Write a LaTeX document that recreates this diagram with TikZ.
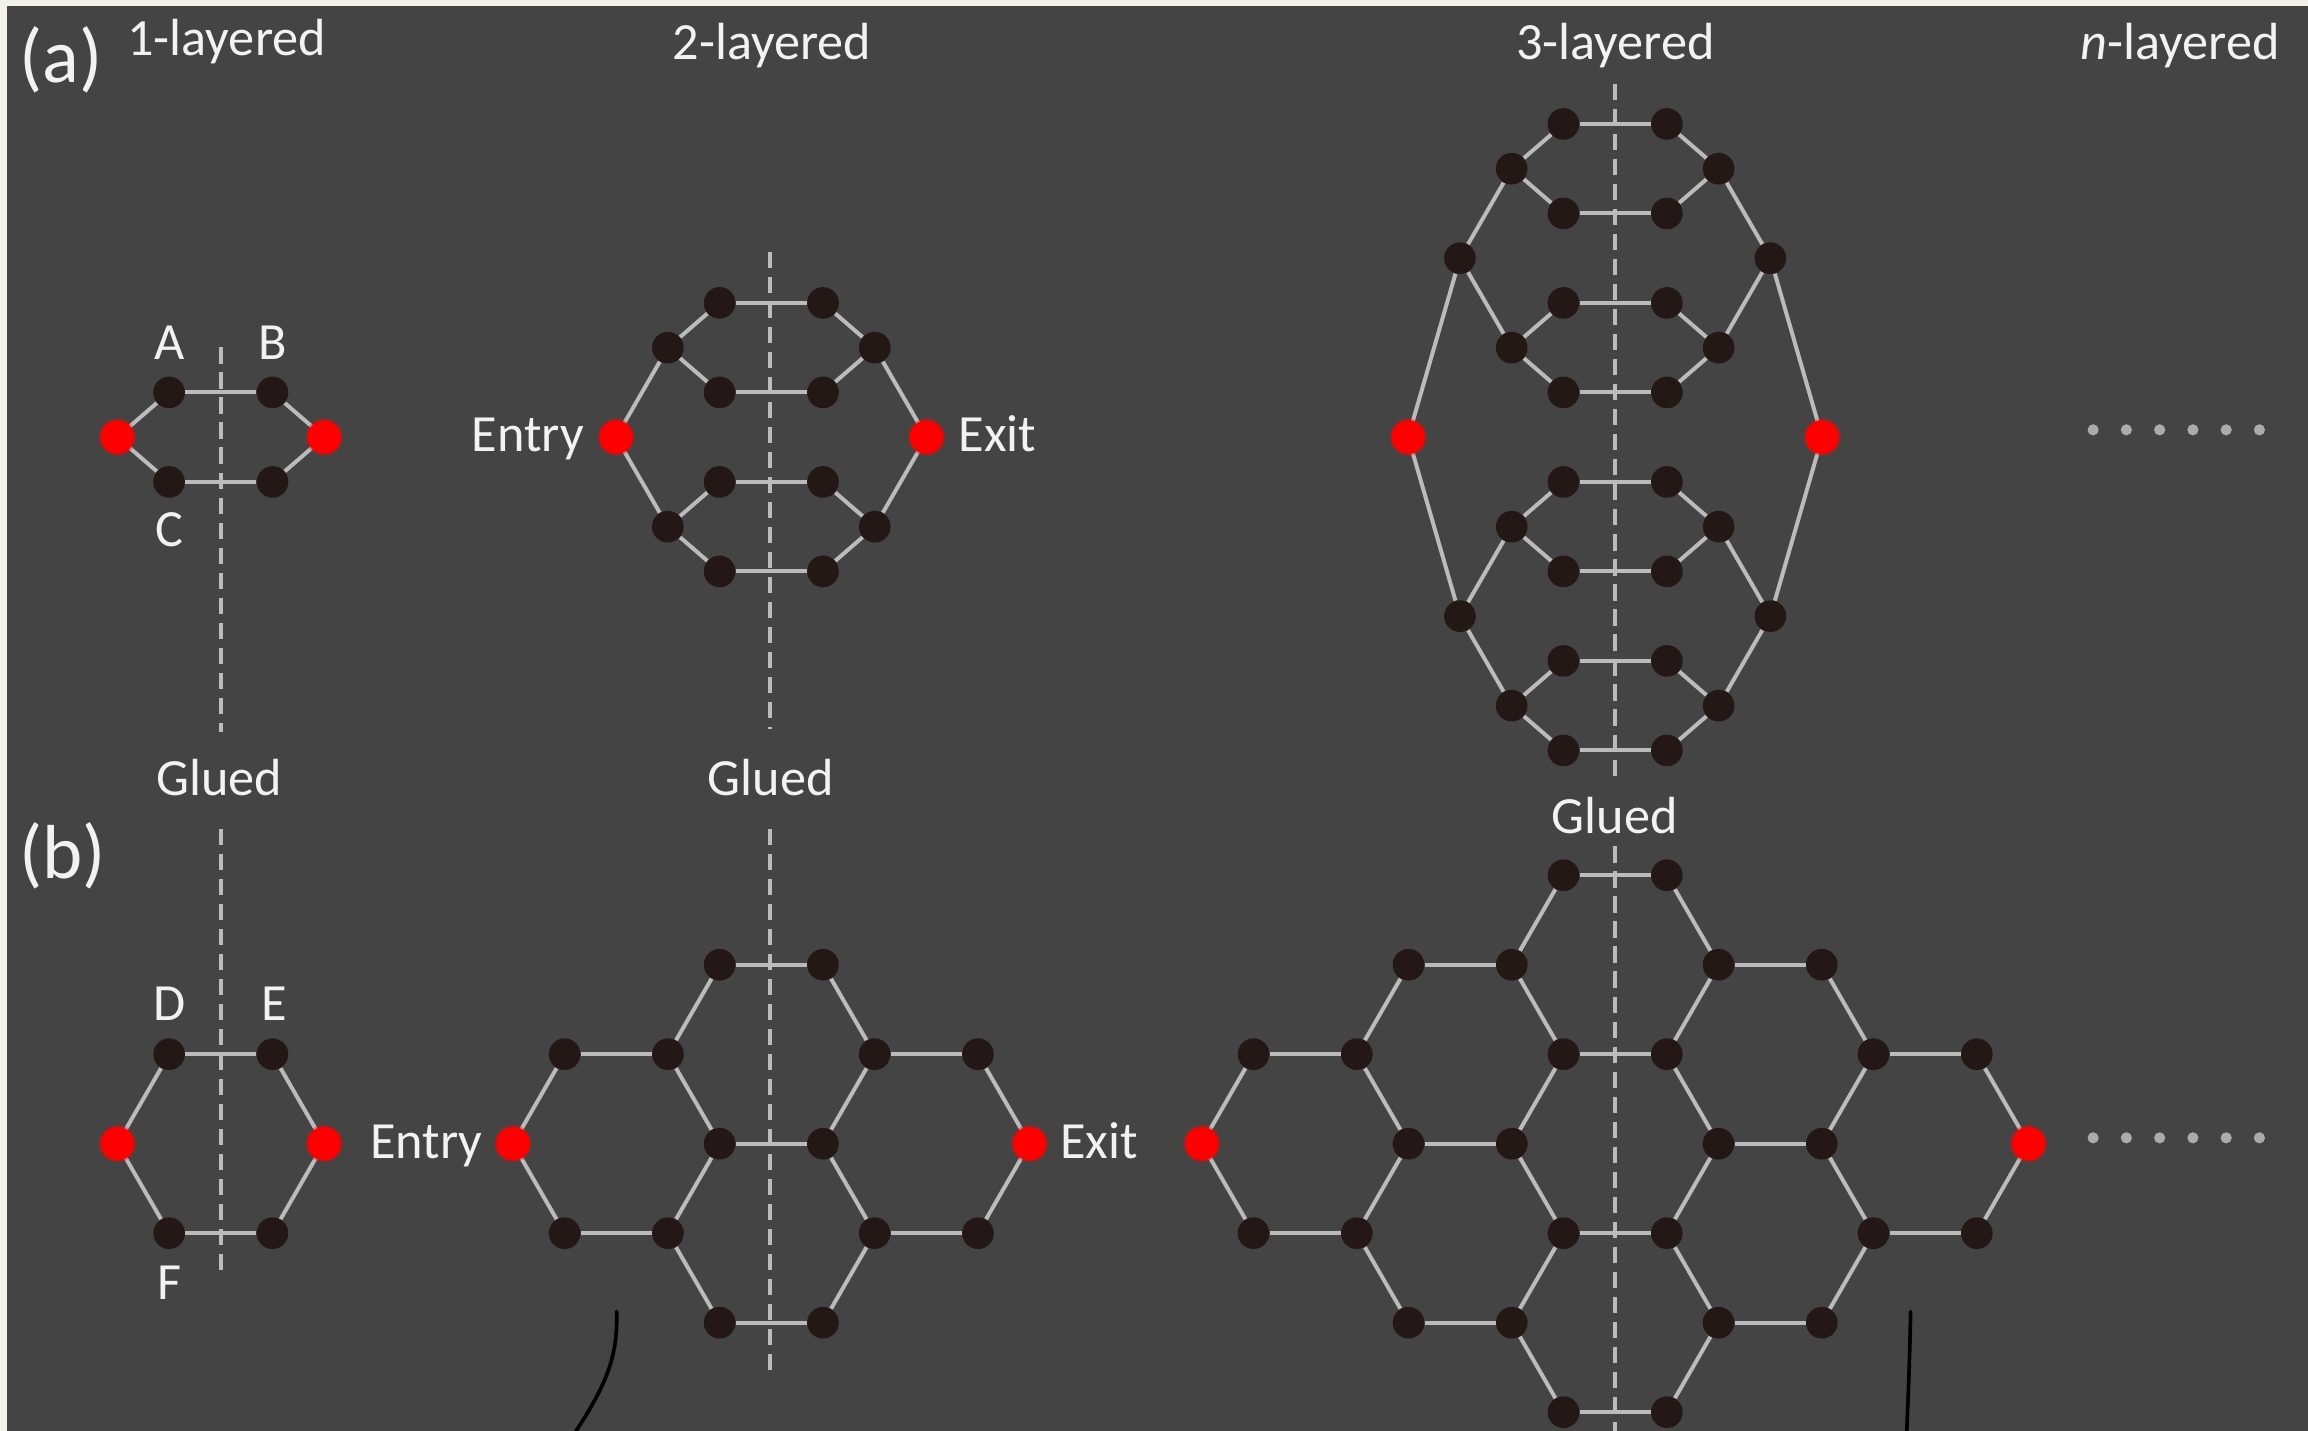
\documentclass[tikz,border=0pt]{standalone}
\usepackage{fontspec}
\setmainfont{Carlito}
\definecolor{paper}{HTML}{F3F1EC}
\definecolor{panelbg}{HTML}{444444}
\definecolor{edgegray}{HTML}{BBBBBB}
\definecolor{atomblk}{HTML}{231815}
\definecolor{atomred}{HTML}{FF0000}
\definecolor{txt}{HTML}{F2F2F2}
\definecolor{dotgray}{HTML}{ABABAB}

\pgfdeclarelayer{back}
\pgfdeclarelayer{bonds}
\pgfsetlayers{back,bonds,main}

\tikzset{
  atom/.style={circle, fill=atomblk, inner sep=0pt, minimum size=21.5pt},
  port/.style={circle, fill=atomred, inner sep=0pt, minimum size=22.5pt,
               preaction={draw=atomred, line width=3pt, draw opacity=0.35}},
  bond/.style={draw=edgegray, line width=2.7pt},
  glue/.style={draw=edgegray, line width=2.7pt, dash pattern=on 11pt off 6pt},
  lbl/.style={text=txt, inner sep=0pt, font=\fontsize{35.5}{42}\selectfont},
  tag/.style={text=txt, inner sep=0pt, font=\fontsize{52}{60}\selectfont},
  curl/.style={draw=black, line width=2.5pt, line cap=round},
}

% a lattice site #2-(col+20)-(row+20) with style #1 at grid point (#3,#4)
\newcommand\hexsite[4]{%
  \pgfmathtruncatemacro\ci{#3+20}\pgfmathtruncatemacro\ri{#4+20}%
  \node[#1] (#2-\ci-\ri) at (#3,#4) {};}
% a bond of lattice #1 between grid points (#2,#3) and (#4,#5)
\newcommand\hexbond[5]{%
  \pgfmathtruncatemacro\ca{#2+20}\pgfmathtruncatemacro\ra{#3+20}%
  \pgfmathtruncatemacro\cb{#4+20}\pgfmathtruncatemacro\rb{#5+20}%
  \draw[bond] (#1-\ca-\ra) -- (#1-\cb-\rb);}

\begin{document}
\begin{tikzpicture}[x=1pt, y=-1pt]
\useasboundingbox (0,0) rectangle (1568,972);
\begin{pgfonlayer}{back}
  \fill[paper] (0,0) rectangle (1568,972);
  \fill[panelbg] (4.5,3.9) rectangle (1568,972);
\end{pgfonlayer}

% ---------- (a) 1-layered ----------
\begin{scope}[shift={(150pt,-297pt)}, x=35.15pt, y=-30.4pt]
  \foreach \s in {-1,1} {
    \hexsite{port}{A1}{2*\s}{0}
    \foreach \r in {-1,1} {\hexsite{atom}{A1}{\s}{\r}}
  }
\end{scope}
\begin{pgfonlayer}{bonds}
  \foreach \s in {-1,1} {
    \foreach \xa/\ya/\xb/\yb in {2/0/1/-1, 2/0/1/1} {\hexbond{A1}{\s*\xa}{\ya}{\s*\xb}{\yb}}
  }
  \foreach \r in {-1,1} {\hexbond{A1}{-1}{\r}{1}{\r}}
\end{pgfonlayer}

% ---------- (a) 2-layered ----------
\begin{scope}[shift={(524pt,-297pt)}, x=35.15pt, y=-30.4pt]
  \foreach \s in {-1,1} {
    \hexsite{port}{A2}{3*\s}{0}
    \foreach \r in {-2,2} {\hexsite{atom}{A2}{2*\s}{\r}}
    \foreach \r in {-3,-1,1,3} {\hexsite{atom}{A2}{\s}{\r}}
  }
\end{scope}
\begin{pgfonlayer}{bonds}
  \foreach \s in {-1,1} {
    \foreach \xa/\ya/\xb/\yb in {3/0/2/-2, 3/0/2/2, 2/-2/1/-3, 2/-2/1/-1, 2/2/1/1, 2/2/1/3}
      {\hexbond{A2}{\s*\xa}{\ya}{\s*\xb}{\yb}}
  }
  \foreach \r in {-3,-1,1,3} {\hexbond{A2}{-1}{\r}{1}{\r}}
\end{pgfonlayer}

% ---------- (a) 3-layered ----------
\begin{scope}[shift={(1097.3pt,-297pt)}, x=35.15pt, y=-30.4pt]
  \foreach \s in {-1,1} {
    \hexsite{port}{A3}{4*\s}{0}
    \foreach \r in {-4,4} {\hexsite{atom}{A3}{3*\s}{\r}}
    \foreach \r in {-6,-2,2,6} {\hexsite{atom}{A3}{2*\s}{\r}}
    \foreach \r in {-7,-5,-3,-1,1,3,5,7} {\hexsite{atom}{A3}{\s}{\r}}
  }
\end{scope}
\begin{pgfonlayer}{bonds}
  \foreach \s in {-1,1} {
    \foreach \xa/\ya/\xb/\yb in {4/0/3/-4, 4/0/3/4, 3/-4/2/-6, 3/-4/2/-2, 3/4/2/2, 3/4/2/6,
        2/-6/1/-7, 2/-6/1/-5, 2/-2/1/-3, 2/-2/1/-1, 2/2/1/1, 2/2/1/3, 2/6/1/5, 2/6/1/7}
      {\hexbond{A3}{\s*\xa}{\ya}{\s*\xb}{\yb}}
  }
  \foreach \r in {-7,-5,-3,-1,1,3,5,7} {\hexbond{A3}{-1}{\r}{1}{\r}}
\end{pgfonlayer}

% ---------- (b) 1-layered ----------
\begin{scope}[shift={(150pt,-777pt)}, x=35.1pt, y=-60.8pt]
  \foreach \s in {-1,1} {
    \hexsite{port}{B1}{2*\s}{0}
    \foreach \r in {-1,1} {\hexsite{atom}{B1}{\s}{\r}}
  }
\end{scope}
\begin{pgfonlayer}{bonds}
  \foreach \s in {-1,1} {
    \foreach \xa/\ya/\xb/\yb in {2/0/1/-1, 2/0/1/1} {\hexbond{B1}{\s*\xa}{\ya}{\s*\xb}{\yb}}
  }
  \foreach \r in {-1,1} {\hexbond{B1}{-1}{\r}{1}{\r}}
\end{pgfonlayer}

% ---------- (b) 2-layered ----------
\begin{scope}[shift={(524pt,-777pt)}, x=35.1pt, y=-60.8pt]
  \foreach \s in {-1,1} {
    \hexsite{port}{B2}{5*\s}{0}
    \foreach \r in {-1,1} {\hexsite{atom}{B2}{4*\s}{\r}\hexsite{atom}{B2}{2*\s}{\r}}
    \foreach \r in {-2,0,2} {\hexsite{atom}{B2}{\s}{\r}}
  }
\end{scope}
\begin{pgfonlayer}{bonds}
  \foreach \s in {-1,1} {
    \foreach \xa/\ya/\xb/\yb in {5/0/4/-1, 5/0/4/1, 4/-1/2/-1, 4/1/2/1,
        2/-1/1/-2, 2/-1/1/0, 2/1/1/0, 2/1/1/2}
      {\hexbond{B2}{\s*\xa}{\ya}{\s*\xb}{\yb}}
  }
  \foreach \r in {-2,0,2} {\hexbond{B2}{-1}{\r}{1}{\r}}
\end{pgfonlayer}

% ---------- (b) 3-layered ----------
\begin{scope}[shift={(1097.3pt,-777pt)}, x=35.1pt, y=-60.8pt]
  \foreach \s in {-1,1} {
    \hexsite{port}{B3}{8*\s}{0}
    \foreach \r in {-1,1} {\hexsite{atom}{B3}{7*\s}{\r}\hexsite{atom}{B3}{5*\s}{\r}}
    \foreach \r in {-2,0,2} {\hexsite{atom}{B3}{4*\s}{\r}\hexsite{atom}{B3}{2*\s}{\r}}
    \foreach \r in {-3,-1,1,3} {\hexsite{atom}{B3}{\s}{\r}}
  }
\end{scope}
\begin{pgfonlayer}{bonds}
  \foreach \s in {-1,1} {
    \foreach \xa/\ya/\xb/\yb in {8/0/7/-1, 8/0/7/1, 7/-1/5/-1, 7/1/5/1,
        5/-1/4/-2, 5/-1/4/0, 5/1/4/0, 5/1/4/2, 4/-2/2/-2, 4/0/2/0, 4/2/2/2,
        2/-2/1/-3, 2/-2/1/-1, 2/0/1/-1, 2/0/1/1, 2/2/1/1, 2/2/1/3}
      {\hexbond{B3}{\s*\xa}{\ya}{\s*\xb}{\yb}}
  }
  \foreach \r in {-3,-1,1,3} {\hexbond{B3}{-1}{\r}{1}{\r}}
\end{pgfonlayer}

% ---------- glue lines (mirror planes) ----------
\coordinate (ga1t) at (150,236);    \coordinate (ga1b) at (150,497);
\coordinate (ga2t) at (523,171);    \coordinate (ga2b) at (523,495);
\coordinate (ga3t) at (1097.3,57);  \coordinate (ga3b) at (1097.3,530);
\coordinate (gb1t) at (150,563);    \coordinate (gb1b) at (150,869);
\coordinate (gb2t) at (523,563);    \coordinate (gb2b) at (523,935);
\coordinate (gb3t) at (1097.3,575); \coordinate (gb3b) at (1097.3,975);
\begin{pgfonlayer}{bonds}
  \draw[glue] (ga1t) -- (ga1b);
  \draw[glue] (ga2t) -- (ga2b);
  \draw[glue] (ga3t) -- (ga3b);
  \draw[glue] (gb1t) -- (gb1b);
  \draw[glue] (gb2t) -- (gb2b);
  \draw[glue] (gb3t) -- (gb3b);
\end{pgfonlayer}

% ---------- continuation dots ----------
\foreach \x in {1422,1444.6,1467.2,1489.8,1512.4,1535} {
  \fill[dotgray] (\x,292) circle (3.8pt);
  \fill[dotgray] (\x,773) circle (3.8pt);
}

% ---------- curved strokes at the bottom ----------
\coordinate (cl1) at (419,891);   \coordinate (cl2) at (389.5,975);
\coordinate (cr1) at (1298,891);  \coordinate (cr2) at (1295.3,975);
\draw[curl] (cl1) .. controls (419.5,920) and (414,938) .. (cl2);
\draw[curl] (cr1) .. controls (1297.5,920) and (1296.5,945) .. (cr2);

% ---------- labels ----------
\node[tag, anchor=base west] (tagA) at (13,56) {(a)};
\node[tag, anchor=base west] (tagB) at (13,597) {(b)};
\node[lbl, anchor=base] (hd1) at (154,38) {1-layered};
\node[lbl, anchor=base] (hd2) at (524.5,40.5) {2-layered};
\node[lbl, anchor=base] (hd3) at (1097.6,40.5) {3-layered};
\node[lbl, anchor=base] (hdn) at (1481,40.5) {\textit{n}-layered};
\node[lbl, anchor=base] (gl1) at (149,540.5) {Glued};
\node[lbl, anchor=base] (gl2) at (523.5,540.5) {Glued};
\node[lbl, anchor=base] (gl3) at (1097,566.5) {Glued};
\node[lbl, anchor=base] (lA) at (115,244) {A};
\node[lbl, anchor=base] (lB) at (185,244) {B};
\node[lbl, anchor=base] (lC) at (115,371) {C};
\node[lbl, anchor=base] (lD) at (115,693) {D};
\node[lbl, anchor=base] (lE) at (186,693) {E};
\node[lbl, anchor=base] (lF) at (115,883) {F};
\node[lbl, anchor=base east] (entA) at (397,307) {Entry};
\node[lbl, anchor=base west] (exA) at (651,307) {Exit};
\node[lbl, anchor=base east] (entB) at (328,787) {Entry};
\node[lbl, anchor=base west] (exB) at (720,787) {Exit};
\end{tikzpicture}
\end{document}
